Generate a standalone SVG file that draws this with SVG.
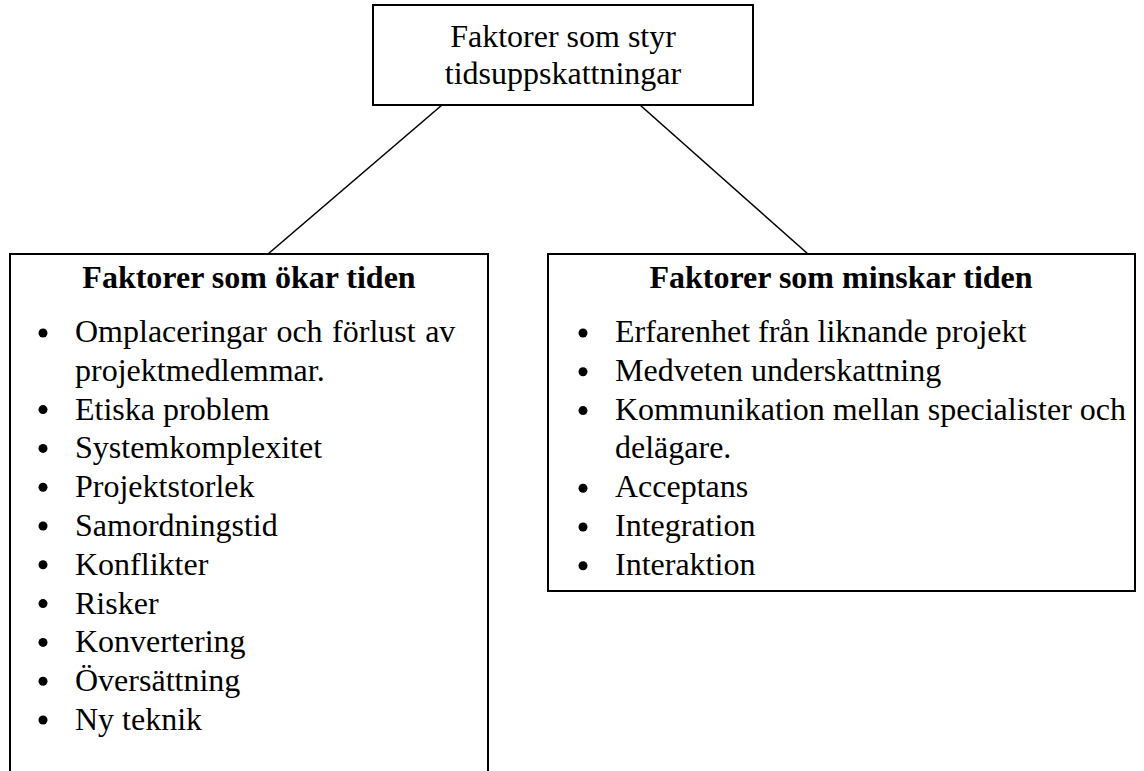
<svg xmlns="http://www.w3.org/2000/svg" width="1144" height="771" viewBox="0 0 1144 771">
  <style>
    .box { fill: #ffffff; stroke: #000000; stroke-width: 2; }
    .link { stroke: #000000; stroke-width: 1.6; fill: none; }
    .t { font-family: "Liberation Serif", "Times New Roman", serif; font-size: 32px; fill: #000000; }
    .c { text-anchor: middle; }
    .b { font-weight: bold; }
    .dot { fill: #000000; }
  </style>
  <rect width="1144" height="771" fill="#ffffff"/>

  <!-- connectors from the root box to the two branches -->
  <g id="connectors">
    <line class="link" x1="442" y1="105" x2="268" y2="254"/>
    <line class="link" x1="640" y1="105" x2="808" y2="254"/>
  </g>

  <!-- root -->
  <g id="root">
    <rect class="box" x="373" y="5" width="380" height="100"/>
    <text class="t c" x="563" y="47">Faktorer som styr</text>
    <text class="t c" x="563" y="84">tidsuppskattningar</text>
  </g>

  <!-- factors that increase the time -->
  <g id="increase">
    <rect class="box" x="10" y="254" width="478" height="534"/>
    <text class="t c b" x="249" y="288">Faktorer som ökar tiden</text>
    <g class="dot">
      <circle cx="43" cy="333" r="4.5"/>
      <circle cx="43" cy="409.6" r="4.5"/>
      <circle cx="43" cy="448.4" r="4.5"/>
      <circle cx="43" cy="487.2" r="4.5"/>
      <circle cx="43" cy="526" r="4.5"/>
      <circle cx="43" cy="564.8" r="4.5"/>
      <circle cx="43" cy="603.6" r="4.5"/>
      <circle cx="43" cy="642.4" r="4.5"/>
      <circle cx="43" cy="681.2" r="4.5"/>
      <circle cx="43" cy="720" r="4.5"/>
    </g>
    <text class="t" x="75" y="342" word-spacing="1.5">Omplaceringar och förlust av</text>
    <text class="t" x="75" y="380.8">projektmedlemmar.</text>
    <text class="t" x="75" y="419.6">Etiska problem</text>
    <text class="t" x="75" y="458.4">Systemkomplexitet</text>
    <text class="t" x="75" y="497.2">Projektstorlek</text>
    <text class="t" x="75" y="536">Samordningstid</text>
    <text class="t" x="75" y="574.8">Konflikter</text>
    <text class="t" x="75" y="613.6">Risker</text>
    <text class="t" x="75" y="652.4">Konvertering</text>
    <text class="t" x="75" y="691.2">Översättning</text>
    <text class="t" x="75" y="730">Ny teknik</text>
  </g>

  <!-- factors that decrease the time -->
  <g id="decrease">
    <rect class="box" x="548" y="254" width="587" height="337"/>
    <text class="t c b" x="841" y="288">Faktorer som minskar tiden</text>
    <g class="dot">
      <circle cx="583" cy="333" r="4.5"/>
      <circle cx="583" cy="371.8" r="4.5"/>
      <circle cx="583" cy="410.6" r="4.5"/>
      <circle cx="583" cy="488.2" r="4.5"/>
      <circle cx="583" cy="527" r="4.5"/>
      <circle cx="583" cy="565.8" r="4.5"/>
    </g>
    <text class="t" x="615" y="342">Erfarenhet från liknande projekt</text>
    <text class="t" x="615" y="380.8">Medveten underskattning</text>
    <text class="t" x="615" y="419.6">Kommunikation mellan specialister och</text>
    <text class="t" x="615" y="458.4">delägare.</text>
    <text class="t" x="615" y="497.2">Acceptans</text>
    <text class="t" x="615" y="536">Integration</text>
    <text class="t" x="615" y="574.8">Interaktion</text>
  </g>
</svg>
